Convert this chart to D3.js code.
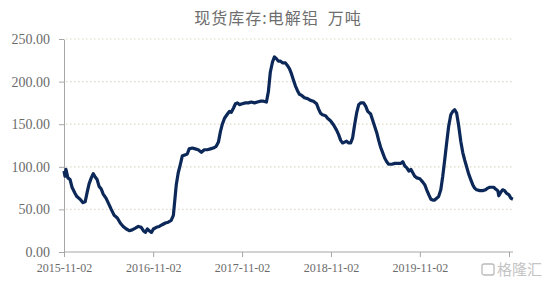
<!DOCTYPE html>
<html>
<head>
<meta charset="utf-8">
<script src="https://cdn.jsdelivr.net/npm/d3@7"></script>
<style>
  body { margin: 0; background: #fff; }
  .axis path, .axis line { stroke: #a6a6a6; }
</style>
</head>
<body>
<div id="chart"></div>
<script>
// weekly-ish readings of the spot inventory, 万吨
var dates = [
  "2015-11-02","2015-11-06","2015-11-10","2015-11-18","2015-11-27","2015-12-05","2015-12-17","2015-12-25",
  "2016-01-07","2016-01-19","2016-01-28","2016-02-05","2016-02-13","2016-02-22","2016-03-01","2016-03-09",
  "2016-03-17","2016-03-25","2016-04-03","2016-04-11","2016-04-23","2016-05-06","2016-05-14","2016-05-26",
  "2016-06-08","2016-06-20","2016-07-02","2016-07-15","2016-07-27","2016-08-08","2016-08-21","2016-09-02",
  "2016-09-14","2016-09-23","2016-10-01","2016-10-09","2016-10-17","2016-10-26","2016-11-03","2016-11-15",
  "2016-11-27","2016-12-09","2016-12-22","2017-01-03","2017-01-15","2017-01-24","2017-01-28","2017-02-05",
  "2017-02-13","2017-02-21","2017-03-02","2017-03-14","2017-03-22","2017-03-30","2017-04-12","2017-04-24",
  "2017-05-06","2017-05-19","2017-05-31","2017-06-12","2017-06-25","2017-07-07","2017-07-19","2017-07-28",
  "2017-08-05","2017-08-13","2017-08-22","2017-09-03","2017-09-11","2017-09-19","2017-09-28","2017-10-06",
  "2017-10-14","2017-10-22","2017-11-03","2017-11-16","2017-11-28","2017-12-10","2017-12-23","2018-01-04",
  "2018-01-16","2018-01-29","2018-02-10","2018-02-18","2018-02-26","2018-03-07","2018-03-15","2018-03-23",
  "2018-03-31","2018-04-09","2018-04-17","2018-04-29","2018-05-07","2018-05-16","2018-05-24","2018-06-01",
  "2018-06-09","2018-06-18","2018-06-26","2018-07-04","2018-07-16","2018-07-29","2018-08-10","2018-08-22",
  "2018-09-04","2018-09-12","2018-09-20","2018-09-28","2018-10-11","2018-10-19","2018-10-31","2018-11-13",
  "2018-11-25","2018-12-03","2018-12-12","2018-12-20","2018-12-28","2019-01-05","2019-01-14","2019-01-22",
  "2019-01-30","2019-02-07","2019-02-16","2019-02-24","2019-03-04","2019-03-16","2019-03-25","2019-04-02",
  "2019-04-14","2019-04-22","2019-05-01","2019-05-09","2019-05-17","2019-05-25","2019-06-03","2019-06-11",
  "2019-06-19","2019-06-27","2019-07-10","2019-07-22","2019-08-03","2019-08-16","2019-08-24","2019-09-01",
  "2019-09-09","2019-09-18","2019-09-26","2019-10-04","2019-10-12","2019-10-21","2019-11-02","2019-11-14",
  "2019-11-22","2019-11-30","2019-12-09","2019-12-17","2019-12-25","2020-01-02","2020-01-10","2020-01-18",
  "2020-01-27","2020-02-04","2020-02-12","2020-02-20","2020-02-28","2020-03-08","2020-03-16","2020-03-24",
  "2020-04-01","2020-04-09","2020-04-18","2020-04-26","2020-05-04","2020-05-12","2020-05-20","2020-05-29",
  "2020-06-06","2020-06-14","2020-06-22","2020-07-05","2020-07-17","2020-07-29","2020-08-07","2020-08-15",
  "2020-08-23","2020-08-31","2020-09-08","2020-09-17","2020-09-21","2020-09-29","2020-10-07","2020-10-15",
  "2020-10-23","2020-11-02","2020-11-10","2020-11-18"
];

var stock = [
  95, 89, 97, 87, 85, 76, 69, 65,
  62, 58, 59, 70, 80, 87, 92, 88,
  85, 77, 74, 68, 63, 55, 50, 43,
  40, 34, 30, 27, 25, 26, 28, 30,
  29, 25, 23, 27, 25, 23, 27, 29,
  30, 32, 34, 35, 37, 43, 55, 79,
  93, 102, 113, 114, 115, 121, 122, 121,
  120, 117, 120, 120, 121, 122, 124, 129,
  141, 150, 157, 162, 165, 164, 169, 174,
  175, 173, 174, 175, 175, 176, 175, 176,
  177, 177, 176, 188, 211, 223, 229, 227,
  224, 224, 222, 222, 219, 215, 209, 202,
  195, 189, 185, 184, 181, 180, 178, 177,
  174, 168, 163, 161, 160, 157, 154, 149,
  143, 138, 131, 128, 129, 130, 128, 128,
  134, 149, 164, 173, 175, 175, 171, 165,
  162, 155, 147, 140, 131, 123, 116, 110,
  106, 103, 103, 104, 104, 104, 106, 101,
  99, 95, 97, 93, 89, 87, 86, 82,
  79, 73, 67, 62, 61, 61, 63, 65,
  73, 89, 108, 128, 147, 161, 165, 167,
  163, 149, 130, 117, 108, 100, 92, 85,
  79, 75, 73, 72, 72, 73, 75, 76,
  76, 76, 74, 72, 66, 70, 73, 72,
  69, 67, 63, 62
];

var yTicks = [0, 50, 100, 150, 200, 250];
var xTicks = ["2015-11-02","2016-11-02","2017-11-02","2018-11-02","2019-11-02","2020-11-02"];
var title = "现货库存:电解铝  万吨";
var watermark = "格隆汇";

var W = 553, H = 285;
var margin = {top: 39, right: 40, bottom: 33, left: 64};
var width = W - margin.left - margin.right,
    height = H - margin.top - margin.bottom;

var parse = d3.timeParse("%Y-%m-%d");
var series = dates.map(function(d, i) { return {date: parse(d), value: stock[i]}; });

var x = d3.scaleTime()
    .domain([parse("2015-11-02"), parse("2020-11-02")])
    .range([0, 445]);

var y = d3.scaleLinear()
    .domain([0, 250])
    .range([height, 0]);

var svg = d3.select("#chart").append("svg")
    .attr("width", W)
    .attr("height", H);

svg.append("text")
    .attr("x", 278)
    .attr("y", 24)
    .attr("text-anchor", "middle")
    .attr("xml:space", "preserve")
    .style("font-family", "'Noto Sans CJK SC', sans-serif")
    .style("font-size", "16px")
    .style("letter-spacing", "1px")
    .style("fill", "#6e6e6e")
    .text(title);

var g = svg.append("g")
    .attr("transform", "translate(" + margin.left + "," + margin.top + ")");

// dotted grid
g.selectAll(".grid")
    .data(yTicks.filter(function(d) { return d > 0; }))
  .enter().append("line")
    .attr("class", "grid")
    .attr("x1", 2)
    .attr("x2", width)
    .attr("y1", function(d) { return y(d); })
    .attr("y2", function(d) { return y(d); })
    .style("stroke", "#ddd9c6")
    .style("stroke-width", 1.2)
    .style("stroke-dasharray", "1.5,2.5");

var yAxis = g.append("g")
    .attr("class", "axis")
    .call(d3.axisLeft(y)
      .tickValues(yTicks)
      .tickSize(5)
      .tickSizeOuter(0)
      .tickPadding(9)
      .tickFormat(d3.format(".2f")));
yAxis.selectAll("text")
    .style("font-family", "'Liberation Serif', serif")
    .style("font-size", "14px")
    .style("fill", "#6b6b6b");

var lastTick = xTicks[xTicks.length - 1];
var xAxis = g.append("g")
    .attr("class", "axis")
    .attr("transform", "translate(0," + height + ")")
    .call(d3.axisBottom(x)
      .tickValues(xTicks.map(parse))
      .tickSize(5)
      .tickSizeOuter(0)
      .tickPadding(6)
      .tickFormat(function(d) {
        var s = d3.timeFormat("%Y-%m-%d")(d);
        return s === lastTick ? "" : s;   // hidden under the watermark in the source
      }));
xAxis.selectAll("text")
    .style("font-family", "'Liberation Serif', serif")
    .style("font-size", "12px")
    .style("fill", "#6b6b6b");
// stretch the baseline to the end of the data
xAxis.select(".domain").attr("d", "M0,0H" + width);

var line = d3.line()
    .x(function(d) { return x(d.date); })
    .y(function(d) { return y(d.value); });

g.append("path")
    .datum(series)
    .attr("d", line)
    .style("fill", "none")
    .style("stroke", "#0c2859")
    .style("stroke-width", 3.2)
    .style("stroke-linejoin", "round");

// watermark
var wm = svg.append("g").attr("transform", "translate(480,261)");
wm.append("rect")
    .attr("x", 2).attr("y", 3).attr("width", 12).attr("height", 11).attr("rx", 2)
    .style("fill", "none").style("stroke", "#bbb").style("stroke-width", 1.3);
wm.append("text")
    .attr("x", 17).attr("y", 14)
    .style("font-family", "'Noto Sans CJK SC', sans-serif")
    .style("font-size", "15px")
    .style("fill", "#c4c4c4")
    .text(watermark);
</script>
</body>
</html>
